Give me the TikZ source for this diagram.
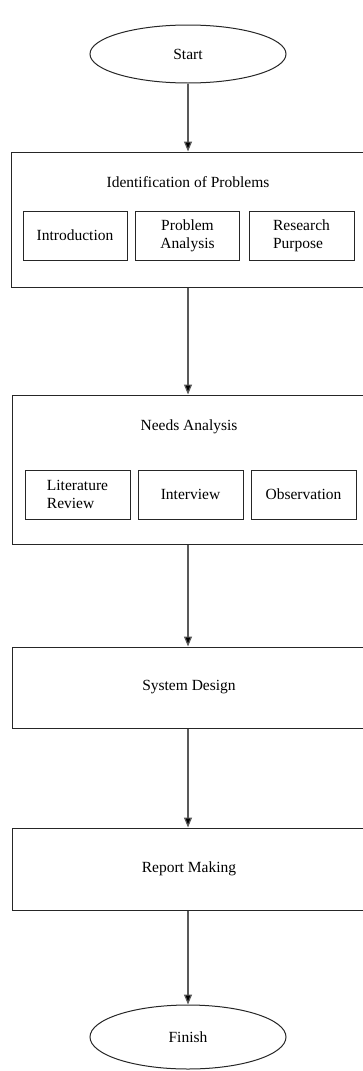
\documentclass[tikz,border=0pt]{standalone}
\usepackage{fontspec}
\setmainfont{Liberation Serif}
\usetikzlibrary{shapes.geometric,arrows.meta}

\begin{document}
\begin{tikzpicture}[x=1pt,y=-1pt,
	font=\fontsize{15.5}{18}\selectfont,
	term/.style={ellipse,draw=black!85,line width=1pt,minimum width=196pt,minimum height=58pt},
	phase/.style={rectangle,draw=black!85,line width=1pt,minimum width=354pt},
	part/.style={rectangle,draw=black!85,line width=1pt,minimum width=104pt,minimum height=49pt,align=center},
	flow/.style={draw=black!65,line width=1.2pt,-{Triangle[width=8pt,length=10pt,fill=black]}}]
	\useasboundingbox (0,0) rectangle (363,1071);
	% start
		\node[term] (start) at (188,54) {Start};
	% identification of problems
		\node[phase,minimum height=135pt] (ident) at (188,219.5) {};
		\node (identtitle) at (188,182) {Identification of Problems};
		\node[part] (intro) at (75,235.5) {Introduction};
		\node[part] (probanal) at (187.5,235.5) {Problem\\Analysis};
		\node[part,minimum width=105pt,align=left] (purpose) at (301.5,235.5) {Research\\Purpose};
	% needs analysis
		\node[phase,minimum height=149pt] (needs) at (189,469.5) {};
		\node (needstitle) at (189,427) {Needs Analysis};
		\node[part,minimum width=105pt,align=left] (litrev) at (77.5,494.5) {Literature\\Review};
		\node[part,minimum width=105pt] (interview) at (190.5,494.5) {Interview};
		\node[part,minimum width=105pt] (observe) at (303.5,494.5) {Observation};
	% system design and report
		\node[phase,minimum height=81pt] (design) at (189,687.5) {System Design};
		\node[phase,minimum height=82pt] (report) at (189,869) {Report Making};
	% finish
		\node[term,minimum height=64pt] (finish) at (188,1037) {Finish};
	% arrows
		\draw[flow] (start) -- (start |- ident.north);
		\draw[flow] (ident.south -| start) -- (start |- needs.north);
		\draw[flow] (needs.south -| start) -- (start |- design.north);
		\draw[flow] (design.south -| start) -- (start |- report.north);
		\draw[flow] (report.south -| start) -- (finish);
\end{tikzpicture}
\end{document}
